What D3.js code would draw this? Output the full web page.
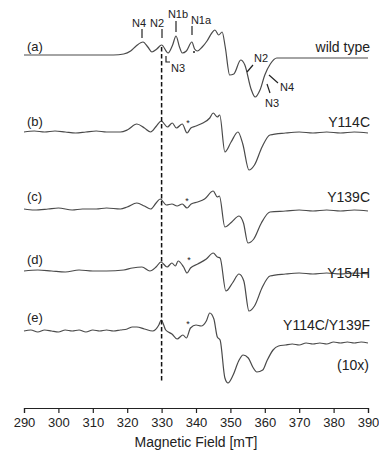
<!DOCTYPE html>
<html>
<head>
<meta charset="utf-8">
<script src="https://cdn.jsdelivr.net/npm/d3@7"></script>
<style>
  body { margin: 0; background: #fff; }
  #chart { width: 379px; height: 453px; }
  text { font-family: "Liberation Sans", Arial, sans-serif; fill: #222; }
</style>
</head>
<body>
<div id="chart"></div>
<script>
// spectra: [field (mT), signal (a.u.)], relative to each trace's baseline
var specA = [[290,0],[300,0],[310,0],[316,0],[319,1],[321,4],[322.6,9],[324.6,13],[326,8],[327.2,3],[328.6,6],[330,10],[331.9,2],[333.2,10],[334.2,19],[335.2,8],[336,2],[337.2,4],[338.8,13],[339.6,6],[340.4,4],[341.8,8],[343.2,14],[344.6,22],[345.5,25],[346.6,20],[347.6,23],[348.5,8],[349.8,-20],[351,-19],[353,-5],[354.2,-10],[356,-34],[357.2,-42],[358.6,-35],[360,-20],[361.6,-9],[363.5,-3],[370,-3],[380,-3],[390,-3]]
var specB = [[290,0],[293,1],[296,0],[299,1],[302,0],[305,-1],[308,0],[311,1],[314,0],[318,0],[320,2],[322.8,8],[325,4],[326.8,0],[328.5,6],[329.9,11],[331.7,5],[333.1,9],[334.3,4],[336,8],[337.4,-1],[338.5,4],[340,6],[342,9],[344,14],[345,19],[346.2,15],[346.9,17],[348.4,-20],[350.2,-10],[352.2,0],[353.6,-12],[355.4,-38],[357,-33],[359.2,-15],[361.5,-3],[366,-1],[370,0],[374,-1],[378,0],[382,-1],[386,0],[390,-1]]
var specC = [[290,0],[293,-1],[297,0],[300,1],[304,-1],[307,0],[311,0],[314,1],[318,0],[320,2],[322.8,6],[325,3],[326.8,0],[328.4,6],[329.6,10],[331.4,4],[333,5],[334.5,3],[336,5],[337.4,1],[338.6,5],[340.5,7],[342.5,10],[345,18],[346.2,12],[346.8,13],[348.4,-18],[350.4,-13],[352.5,-7],[353.8,-14],[355.1,-34],[356.8,-30],[359,-14],[361.5,-3],[366,-2],[370,-1],[374,-2],[378,-1],[382,-2],[386,-1],[390,-2]]
var specD = [[290,0],[294,1],[298,0],[302,-1],[306,1],[310,0],[314,0],[319,1],[321.5,3],[324.3,4],[326.6,0],[328.4,4],[329.8,9],[331.6,4],[333,8],[334,5],[334.8,10],[336.4,4],[337.4,-2],[338.4,3],[340.5,7],[343,12],[345,18],[346.2,14],[347,13],[348.7,-20],[350.6,-12],[352.5,-3],[353.9,-10],[355.4,-40],[357,-35],[359.3,-16],[361.5,-5],[366,-3],[370,-2],[374,-3],[378,-2],[382,-3],[386,-2],[390,-3]]
var specE = [[290,0],[292,1],[294,-1],[296,1],[298,0],[300,-1],[302,1],[304,0],[306,1],[308,-1],[310,1],[312,0],[314,1],[316,0],[318,1],[320,2],[321.5,4],[322.8,4],[325,2],[327.4,0],[329.2,6],[329.9,11],[331.2,1],[333,-3],[334.5,-8],[336.2,-4],[337.2,-7],[338.4,3],[340,6],[341.5,5],[343,10],[344,18],[345.2,12],[346.2,-6],[347,-9],[348.4,-47],[349.3,-52],[350.8,-44],[352.4,-30],[353.7,-24],[355.2,-27],[356.5,-36],[357.7,-41],[359.4,-39],[360.6,-30],[362.4,-19],[364,-15],[366,-14],[368,-13],[370,-14],[372,-12],[374,-13],[376,-12],[378,-13],[380,-11],[382,-12],[384,-11],[386,-12],[388,-11],[390,-12]]

var spectra = [specA, specB, specC, specD, specE]
var panelLabels = ['(a)', '(b)', '(c)', '(d)', '(e)']
var sampleNames = ['wild type', 'Y114C', 'Y139C', 'Y154H', 'Y114C/Y139F']
var offsets = [353, 276, 199, 137, 77]   // vertical stacking of traces (a.u.)
var xTicks = [290, 300, 310, 320, 330, 340, 350, 360, 370, 380, 390]
var markerField = 330

var width = 379, height = 453
var svg = d3.select('#chart').append('svg').attr('width', width).attr('height', height)

var x = d3.scaleLinear().domain([290, 390]).range([24, 368])
var y = d3.scaleLinear().domain([0, 400]).range([408, 8])

var line = d3.line().curve(d3.curveMonotoneX)

//谱线
spectra.forEach(function (s, i) {
  line.x(function (d) { return x(d[0]) }).y(function (d) { return y(d[1] + offsets[i]) })
  svg.append('path')
    .datum(s)
    .attr('d', line)
    .attr('fill', 'none')
    .attr('stroke', '#4a4a4a')
    .attr('stroke-width', 1.2)
})

//虚线
svg.append('line')
  .attr('x1', x(markerField)).attr('x2', x(markerField))
  .attr('y1', 47).attr('y2', 383)
  .attr('stroke', '#111')
  .attr('stroke-width', 1.5)
  .attr('stroke-dasharray', '4.5,2.5')

// labels
var leftY = [51, 126, 201, 264, 322]
var rightY = [52, 127, 202, 278, 330]
panelLabels.forEach(function (t, i) {
  svg.append('text').attr('x', 27).attr('y', leftY[i]).attr('font-size', 13).text(t)
  svg.append('text').attr('x', 370).attr('y', rightY[i]).attr('font-size', 14)
    .attr('text-anchor', 'end').text(sampleNames[i])
})
svg.append('text').attr('x', 369).attr('y', 370).attr('font-size', 14)
  .attr('text-anchor', 'end').text('(10x)')

// asterisks
var starPos = [[188, 126], [187, 204], [189, 263], [188, 327]]
starPos.forEach(function (p) {
  svg.append('text').attr('x', p[0]).attr('y', p[1]).attr('font-size', 9)
    .attr('text-anchor', 'middle').text('*')
})
svg.append('circle').attr('cx', 194).attr('cy', 52).attr('r', 1).attr('fill', '#222')

// N annotations on wild type
var ann = [
  {t: 'N4', tx: 139, ty: 27, l: [[142, 29], [142, 38]]},
  {t: 'N2', tx: 157, ty: 27, l: [[162, 29], [162, 38]]},
  {t: 'N1b', tx: 178, ty: 18, l: [[176, 21], [176, 32]]},
  {t: 'N1a', tx: 201, ty: 24, l: [[192, 26], [192, 35]]},
  {t: 'N3', tx: 178, ty: 72, l: [[166, 56], [166, 62], [170, 62]]},
  {t: 'N2', tx: 261, ty: 62, l: [[247, 72], [253, 65]]},
  {t: 'N4', tx: 287, ty: 91, l: [[269, 75], [278, 83]]},
  {t: 'N3', tx: 272, ty: 107, l: [[267, 84], [270, 93]]}
]
ann.forEach(function (a) {
  svg.append('text').attr('x', a.tx).attr('y', a.ty).attr('font-size', 11)
    .attr('text-anchor', 'middle').text(a.t)
  svg.append('path').attr('d', d3.line()(a.l))
    .attr('fill', 'none').attr('stroke', '#222').attr('stroke-width', 1.2)
})

//轴
var xAxis = d3.axisBottom(x).tickValues(xTicks).tickSize(5).tickPadding(5).tickFormat(d3.format('d'))
var gx = svg.append('g')
  .attr('transform', 'translate(0,408)')
  .call(xAxis)
gx.select('.domain').attr('stroke', '#222').attr('stroke-width', 1.2)
gx.selectAll('.tick line').attr('stroke', '#222').attr('stroke-width', 1.2)
gx.selectAll('text').attr('font-size', 13).attr('fill', '#222')
  .attr('font-family', '"Liberation Sans", Arial, sans-serif')

svg.append('text')
  .attr('x', 196).attr('y', 447)
  .attr('text-anchor', 'middle')
  .attr('font-size', 14)
  .text('Magnetic Field [mT]')
</script>
</body>
</html>
